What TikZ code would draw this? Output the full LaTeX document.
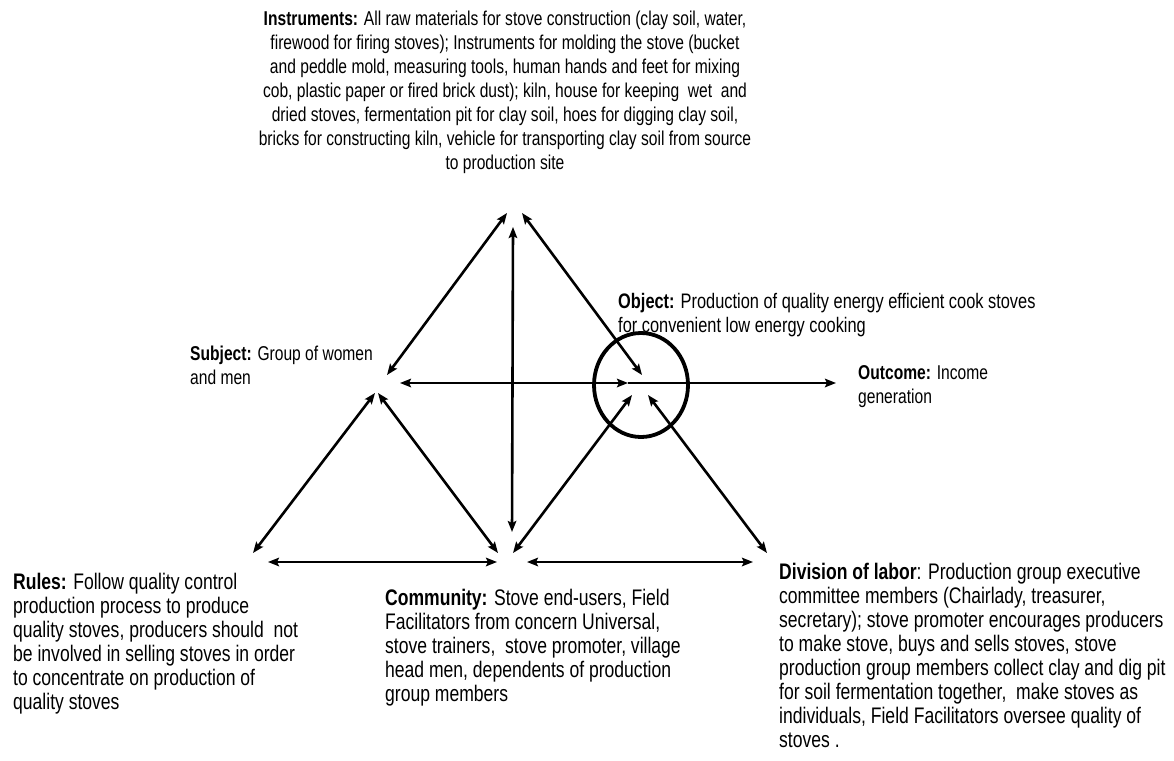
\documentclass[tikz,border=0pt]{standalone}
\usepackage{fontspec}
\setmainfont{Liberation Sans}[FakeStretch=0.78]
\usetikzlibrary{arrows.meta}
\begin{document}
\begin{tikzpicture}[x=1pt,y=-1pt,
  txt/.style={inner sep=0pt, font=\fontsize{20}{24}\selectfont},
  bigtxt/.style={inner sep=0pt, font=\fontsize{22.5}{24}\selectfont},
  objtxt/.style={inner sep=0pt, font=\fontsize{21}{24}\selectfont},
  tip/.tip={Stealth[length=11pt,width=8.5pt,inset=2pt]},
  link/.style={line width=2.6pt, tip-tip},
  oneway/.style={line width=2.6pt, -tip}]
\useasboundingbox (0,0) rectangle (1174,760);

% text blocks
\node[txt, anchor=north, align=center] (instr) at (505,10.6)
  {\textbf{Instruments:} All raw materials for stove construction (clay soil, water,\\
   firewood for firing stoves); Instruments for molding the stove (bucket\\
   and peddle mold, measuring tools, human hands and feet for mixing\\
   cob, plastic paper or fired brick dust); kiln, house for keeping\ \ wet\ \ and\\
   dried stoves, fermentation pit for clay soil, hoes for digging clay soil,\\
   bricks for constructing kiln, vehicle for transporting clay soil from source\\
   to production site};
\node[objtxt, anchor=north west, align=left] (object) at (618,293)
  {\textbf{Object:} Production of quality energy efficient cook stoves\\
   for convenient low energy cooking};
\node[txt, anchor=north west, align=left] (subject) at (190,345.6)
  {\textbf{Subject:} Group of women\\ and men};
\node[txt, anchor=north west, align=left] (outcome) at (858,365.6)
  {\textbf{Outcome:} Income\\ generation};
\node[bigtxt, anchor=north west, align=left] (rules) at (13,572.7)
  {\textbf{Rules:} Follow quality control\\
   production process to produce\\
   quality stoves, producers should\ \ not\\
   be involved in selling stoves in order\\
   to concentrate on production of\\
   quality stoves};
\node[bigtxt, anchor=north west, align=left] (community) at (385,588.7)
  {\textbf{Community:} Stove end-users, Field\\
   Facilitators from concern Universal,\\
   stove trainers,\ \ stove promoter, village\\
   head men, dependents of production\\
   group members};
\node[bigtxt, anchor=north west, align=left] (division) at (779,562.7)
  {\textbf{Division of labor}: Production group executive\\
   committee members (Chairlady, treasurer,\\
   secretary); stove promoter encourages producers\\
   to make stove, buys and sells stoves, stove\\
   production group members collect clay and dig pit\\
   for soil fermentation together,\ \ make stoves as\\
   individuals, Field Facilitators oversee quality of\\
   stoves .};

% connector end points around each corner
\coordinate (iL) at (507,213);
\coordinate (iM) at (513,227);
\coordinate (iR) at (522,213);
\coordinate (sU) at (387,375);
\coordinate (sR) at (400,383);
\coordinate (sL) at (375,393);
\coordinate (sD) at (378,393);
\coordinate (oU) at (642,375);
\coordinate (oL) at (628,383);
\coordinate (oD) at (632,395);
\coordinate (oR) at (648,395);
\coordinate (out) at (836,383);
\coordinate (rU) at (253,553);
\coordinate (rR) at (268,562);
\coordinate (cL) at (498,553);
\coordinate (cM) at (512,532);
\coordinate (cR) at (513,553);
\coordinate (cH) at (497,562);
\coordinate (cK) at (527,562);
\coordinate (dU) at (767,553);
\coordinate (dL) at (753,562);

% object ring
\draw[line width=3.8pt] (641,385) ellipse [x radius=47, y radius=52];

% connectors
\draw[link] (iL) -- (sU);
\draw[link] (iM) -- (cM);
\draw[link] (iR) -- (oU);
\draw[link] (sR) -- (oL);
\draw[oneway] (oL) -- (out);
\draw[link] (sL) -- (rU);
\draw[link] (sD) -- (cL);
\draw[link] (rR) -- (cH);
\draw[link] (cR) -- (oD);
\draw[link] (oR) -- (dU);
\draw[link] (cK) -- (dL);
\end{tikzpicture}
\end{document}
